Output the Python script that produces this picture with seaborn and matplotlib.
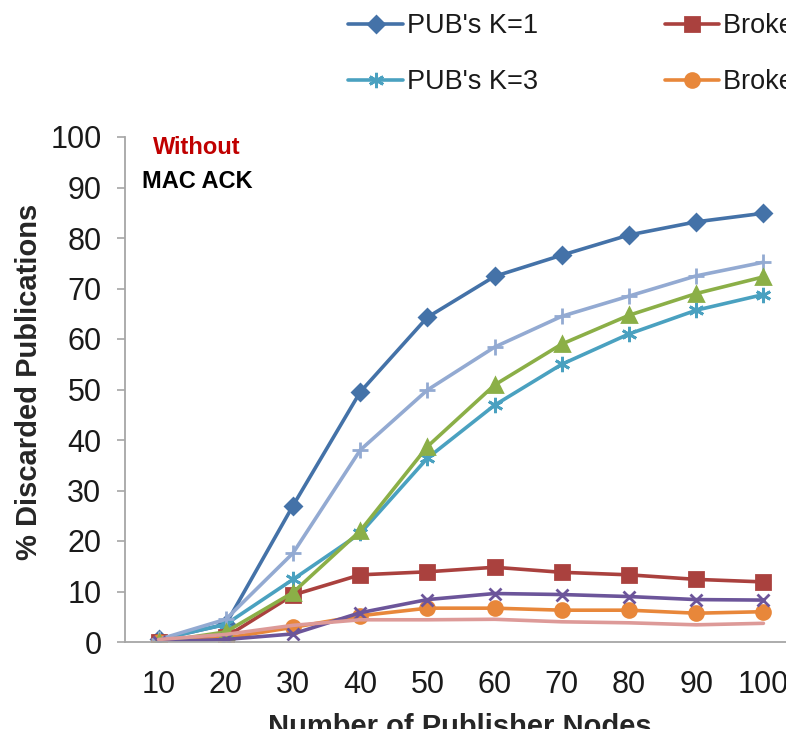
import numpy as np
import pandas as pd
import matplotlib
matplotlib.use("Agg")
import matplotlib.pyplot as plt
import seaborn as sns

sns.set_style("white")
plt.rcParams['font.family'] = ['Liberation Sans', 'DejaVu Sans']
plt.rcParams['text.color'] = '#1a1a1a'
plt.rcParams['xtick.labelcolor'] = '#1a1a1a'
plt.rcParams['ytick.labelcolor'] = '#1a1a1a'

# data
nodes = [10, 20, 30, 40, 50, 60, 70, 80, 90, 100]
pub_k1 = [0.5, 3.5, 27.0, 49.5, 64.3, 72.4, 76.6, 80.6, 83.2, 84.9]
pub_k2 = [0.5, 4.5, 17.6, 38.0, 49.9, 58.4, 64.5, 68.5, 72.5, 75.2]
pub_k3 = [0.5, 3.5, 12.4, 21.5, 36.4, 46.9, 55.0, 61.0, 65.7, 68.8]
pub_k4 = [0.0, 2.0, 9.8, 22.0, 38.7, 50.9, 59.0, 64.7, 69.0, 72.3]
broker_k1 = [0.0, 1.0, 9.3, 13.3, 13.9, 14.8, 13.8, 13.3, 12.4, 11.9]
broker_k2 = [0.0, 0.5, 1.6, 5.8, 8.4, 9.6, 9.4, 9.0, 8.4, 8.3]
broker_k3 = [0.0, 0.8, 2.9, 5.2, 6.7, 6.7, 6.3, 6.3, 5.7, 6.0]
broker_k4 = [0.5, 1.5, 3.3, 4.4, 4.4, 4.5, 4.0, 3.8, 3.4, 3.7]

series = [
    ("PUB's K=1", pub_k1, '#4472A8', 'D', 8),
    ("PUB's K=3", pub_k3, '#4AA1C0', (6, 2, 0), 11),
    ("Broker's K=1", broker_k1, '#AA413E', 's', 10),
    ("Broker's K=3", broker_k3, '#E8873A', 'o', 10),
    ("PUB's K=2", pub_k2, '#93AAD2', '+', 11),
    ("PUB's K=4", pub_k4, '#8BAF47', '^', 10),
    ("Broker's K=2", broker_k2, '#6C559A', 'x', 9),
    ("Broker's K=4", broker_k4, '#DD9A98', None, 0),
]

fig = plt.figure(figsize=(7.86, 7.29), dpi=100)
# the plot area runs past the right edge, as in the cropped reference
ax = fig.add_axes([125 / 786, 87 / 729, 672 / 786, 505 / 729])

for name, vals, col, mk, ms in series:
    sns.lineplot(x=nodes, y=vals, color=col, marker=mk, markersize=ms,
                 markeredgecolor=col, markeredgewidth=2, linewidth=2.6,
                 ax=ax, label=name, legend=False)

ax.set_xlim(5, 105)
ax.set_ylim(0, 100)
ax.set_xticks(nodes)
ax.set_yticks(range(0, 101, 10))
ax.tick_params(axis='x', length=0, labelsize=22, pad=20)
ax.tick_params(axis='y', length=6, width=1.2, color='#A6A6A6', labelsize=22,
               direction='out', left=True, pad=11)
for s in ['top', 'right']:
    ax.spines[s].set_visible(False)
for s in ['left', 'bottom']:
    ax.spines[s].set_color('#A6A6A6')
    ax.spines[s].set_linewidth(1.3)

ax.set_xlabel('Number of Publisher Nodes', fontsize=21, fontweight='bold')
ax.set_ylabel('% Discarded Publications', fontsize=21, fontweight='bold')
ax.yaxis.set_label_coords(-(125 - 43) / 672, 0.515)
ax.xaxis.set_label_coords((460 - 125) / 672, -(713 - 642) / 505)

ax.text(197 / 786, 1 - 147 / 729, 'Without', transform=fig.transFigure,
        color='#C00000', fontsize=17, fontweight='bold', ha='center', va='center')
ax.text(197 / 786, 1 - 181 / 729, 'MAC ACK', transform=fig.transFigure,
        color='black', fontsize=17, fontweight='bold', ha='center', va='center')

lines = ax.get_lines()
fig.legend(lines[:4], [s[0] for s in series[:4]], ncol=2, frameon=False,
           loc='upper left', bbox_to_anchor=(339 / 786, 1 - 4 / 729),
           fontsize=19.5, handlelength=2.0, handletextpad=0.15,
           columnspacing=4.7, labelspacing=1.1, borderpad=0.35,
           borderaxespad=0)

fig.savefig('out.png', dpi=100)
